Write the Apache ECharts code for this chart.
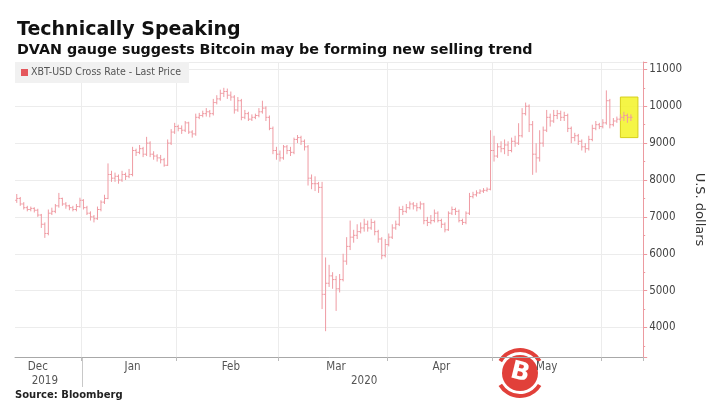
<!DOCTYPE html>
<html>
<head>
<meta charset="utf-8">
<script src="https://cdn.jsdelivr.net/npm/echarts@6/dist/echarts.min.js"></script>
<style>
  html, body { margin: 0; padding: 0; background: #fff; }
  #main { width: 714px; height: 410px; }
</style>
</head>
<body>
<div id="main"></div>
<script>
// daily categories as they appear on the chart (a few January days are missing in the source)
var dates = [
  '2019-12-13','2019-12-14','2019-12-15','2019-12-16','2019-12-17','2019-12-18','2019-12-19','2019-12-20',
  '2019-12-21','2019-12-22','2019-12-23','2019-12-24','2019-12-25','2019-12-26','2019-12-27','2019-12-28',
  '2019-12-29','2019-12-30','2019-12-31',
  '2020-01-01','2020-01-02','2020-01-03','2020-01-04','2020-01-05','2020-01-06','2020-01-07','2020-01-08',
  '2020-01-09','2020-01-10','2020-01-11','2020-01-12','2020-01-13','2020-01-14','2020-01-15','2020-01-16',
  '2020-01-17','2020-01-20','2020-01-21','2020-01-22','2020-01-23','2020-01-24','2020-01-27','2020-01-28',
  '2020-01-29','2020-01-30','2020-01-31',
  '2020-02-01','2020-02-02','2020-02-03','2020-02-04','2020-02-05','2020-02-06','2020-02-07','2020-02-08',
  '2020-02-09','2020-02-10','2020-02-11','2020-02-12','2020-02-13','2020-02-14','2020-02-15','2020-02-16',
  '2020-02-17','2020-02-18','2020-02-19','2020-02-20','2020-02-21','2020-02-22','2020-02-23','2020-02-24',
  '2020-02-25','2020-02-26','2020-02-27','2020-02-28','2020-02-29',
  '2020-03-01','2020-03-02','2020-03-03','2020-03-04','2020-03-05','2020-03-06','2020-03-07','2020-03-08',
  '2020-03-09','2020-03-10','2020-03-11','2020-03-12','2020-03-13','2020-03-14','2020-03-15','2020-03-16',
  '2020-03-17','2020-03-18','2020-03-19','2020-03-20','2020-03-21','2020-03-22','2020-03-23','2020-03-24',
  '2020-03-25','2020-03-26','2020-03-27','2020-03-28','2020-03-29','2020-03-30','2020-03-31',
  '2020-04-01','2020-04-02','2020-04-03','2020-04-04','2020-04-05','2020-04-06','2020-04-07','2020-04-08',
  '2020-04-09','2020-04-10','2020-04-11','2020-04-12','2020-04-13','2020-04-14','2020-04-15','2020-04-16',
  '2020-04-17','2020-04-18','2020-04-19','2020-04-20','2020-04-21','2020-04-22','2020-04-23','2020-04-24',
  '2020-04-25','2020-04-26','2020-04-27','2020-04-28','2020-04-29','2020-04-30',
  '2020-05-01','2020-05-02','2020-05-03','2020-05-04','2020-05-05','2020-05-06','2020-05-07','2020-05-08',
  '2020-05-09','2020-05-10','2020-05-11','2020-05-12','2020-05-13','2020-05-14','2020-05-15','2020-05-16',
  '2020-05-17','2020-05-18','2020-05-19','2020-05-20','2020-05-21','2020-05-22','2020-05-23','2020-05-24',
  '2020-05-25','2020-05-26','2020-05-27','2020-05-28','2020-05-29','2020-05-30','2020-05-31',
  '2020-06-01','2020-06-02','2020-06-03','2020-06-04','2020-06-05','2020-06-06','2020-06-07','2020-06-08',
  '2020-06-09','2020-06-10','2020-06-11','2020-06-12'
]

// [open, close, low, high] per day
var ohlc = [
  [7450,7500,7380,7620],[7500,7350,7300,7540],[7350,7250,7200,7400],[7250,7200,7150,7300],
  [7200,7230,7150,7280],[7230,7180,7120,7260],[7180,7050,7000,7220],[7050,6800,6700,7080],
  [6800,6550,6430,6850],[6550,7100,6500,7200],[7100,7150,7050,7250],[7150,7300,7100,7350],
  [7300,7500,7250,7650],[7500,7350,7300,7520],[7350,7300,7220,7400],[7300,7250,7180,7330],
  [7250,7200,7150,7300],[7200,7280,7150,7350],[7280,7450,7250,7520],
  [7450,7250,7200,7480],[7250,7100,7050,7300],[7100,7000,6900,7150],[7000,6950,6850,7050],
  [6950,7200,6920,7280],[7200,7400,7150,7450],[7400,7500,7350,7600],[7500,8150,7480,8450],
  [8150,8050,7950,8250],[8050,8100,7950,8200],[8100,8000,7900,8150],[8000,8150,7950,8250],
  [8150,8100,8000,8200],[8100,8150,8050,8300],[8150,8800,8100,8900],[8800,8750,8650,8850],
  [8750,8850,8700,8950],[8850,8700,8620,8900],[8700,9000,8650,9170],[9000,8700,8620,9050],
  [8700,8650,8550,8780],[8650,8600,8500,8700],[8600,8550,8450,8680],[8550,8400,8360,8600],
  [8400,9000,8380,9100],[9000,9300,8950,9380],[9300,9450,9250,9550],
  [9450,9400,9320,9500],[9400,9350,9250,9480],[9350,9550,9300,9600],[9550,9300,9250,9580],
  [9300,9250,9150,9350],[9250,9700,9200,9800],[9700,9750,9650,9820],[9750,9800,9700,9880],
  [9800,9850,9720,9950],[9850,9800,9700,9900],[9800,10100,9750,10200],[10100,10200,10050,10300],
  [10200,10350,10150,10450],[10350,10400,10250,10500],[10400,10300,10200,10480],[10300,10250,10150,10400],
  [10250,9900,9800,10300],[9900,10150,9850,10250],[10150,9700,9620,10200],[9700,9800,9650,9900],
  [9800,9650,9600,9850],[9650,9700,9600,9780],[9700,9750,9650,9800],[9750,9850,9700,9950],
  [9850,9950,9800,10150],[9950,9700,9600,10000],[9700,9400,9350,9750],[9400,8800,8700,9450],
  [8800,8700,8550,8900],
  [8700,8600,8500,8800],[8600,8900,8550,8950],[8900,8800,8700,8950],[8800,8750,8650,8900],
  [8750,9100,8700,9150],[9100,9150,9000,9220],[9150,9050,8950,9200],[9050,8900,8800,9100],
  [8900,8050,7850,8950],[8050,7900,7750,8150],[7900,7900,7700,8100],[7900,7800,7650,7950],
  [7800,4900,4500,7950],[4900,5200,3900,5900],[5200,5400,5100,5700],[5400,5300,5050,5500],
  [5300,5050,4450,5400],[5050,5300,4950,5450],[5300,5800,5250,6000],[5800,6200,5700,6450],
  [6200,6450,6100,6900],[6450,6500,6300,6650],[6500,6600,6400,6800],[6600,6700,6550,6850],
  [6700,6800,6600,6950],[6800,6700,6600,6900],[6700,6850,6650,6950],[6850,6600,6500,6900],
  [6600,6400,6300,6650],[6400,5950,5850,6450],[5950,6250,5900,6400],
  [6250,6450,6200,6550],[6450,6700,6400,6800],[6700,6800,6650,6900],[6800,7200,6750,7280],
  [7200,7150,7050,7300],[7150,7250,7100,7350],[7250,7350,7200,7420],[7350,7300,7200,7400],
  [7300,7250,7150,7380],[7250,7350,7200,7420],[7350,6900,6800,7380],[6900,6850,6750,7000],
  [6850,6900,6800,7050],[6900,7100,6850,7200],[7100,6900,6850,7150],[6900,6800,6700,6950],
  [6800,6650,6580,6850],[6650,7100,6620,7150],[7100,7200,7050,7280],[7200,7150,7050,7250],
  [7150,6900,6850,7200],[6900,6850,6780,6950],[6850,7100,6800,7150],[7100,7550,7050,7650],
  [7550,7600,7500,7680],[7600,7650,7550,7720],[7650,7700,7620,7750],[7700,7720,7650,7780],
  [7720,7750,7680,7800],[7750,8800,7720,9350],
  [8800,8650,8500,9200],[8650,8900,8600,9000],[8900,8850,8750,9050],[8850,8950,8700,9100],
  [8950,8800,8650,9050],[8800,9050,8750,9150],[9050,9000,8900,9200],[9000,9200,8950,9540],
  [9200,9800,9150,9950],[9800,10000,9750,10100],[10000,9500,9300,10050],[9500,8700,8140,9600],
  [8700,8600,8200,9000],[8600,9000,8500,9350],[9000,9350,8900,9450],[9350,9700,9300,9900],
  [9700,9600,9450,9800],[9600,9750,9550,9900],[9750,9800,9650,9900],[9800,9700,9600,9880],
  [9700,9750,9600,9850],[9750,9400,9300,9800],[9400,9150,9000,9450],[9150,9200,9050,9280],
  [9200,9050,8950,9250],[9050,8900,8800,9100],[8900,8850,8740,9000],[8850,9100,8800,9200],
  [9100,9400,9050,9500],[9400,9500,9350,9600],[9500,9450,9380,9550],
  [9450,9550,9400,9650],[9550,10150,9500,10430],[10150,9500,9400,10200],[9500,9600,9450,9680],
  [9600,9650,9550,9720],[9650,9700,9600,9780],[9700,9750,9600,9850],[9750,9700,9550,9800],
  [9700,9700,9600,9780]
]

// axis labels
var labelDates = ['2019-12-19', '2020-01-15', '2020-02-16', '2020-03-17', '2020-04-16', '2020-05-16']
var monthLabels = ['Dec', 'Jan', 'Feb', 'Mar', 'Apr', 'May']
var yearDates = ['2019-12-21', '2020-03-25']
var yearLabels = ['2019', '2020']
var yearStart = '2020-01-01'
// highlighted box (dates, price range)
var boxDates = ['2020-06-06', '2020-06-11']
var boxRange = [9150, 10250]

var seriesData = ohlc.map(function (d, i) {
  return [i, d[0], d[1], d[2], d[3]]
})

var barColor = '#ef9ba3'
function renderItem(params, api) {
  var i = api.value(0)
  var o = api.coord([i, api.value(1)])
  var c = api.coord([i, api.value(2)])
  var lo = api.coord([i, api.value(3)])
  var hi = api.coord([i, api.value(4)])
  var w = api.size([1, 0])[0] * 0.45
  var st = { stroke: barColor, lineWidth: 1 }
  return {
    type: 'group',
    children: [
      { type: 'line', shape: { x1: hi[0], y1: hi[1], x2: lo[0], y2: lo[1] }, style: st },
      { type: 'line', shape: { x1: o[0] - w, y1: o[1], x2: o[0], y2: o[1] }, style: st },
      { type: 'line', shape: { x1: c[0], y1: c[1], x2: c[0] + w, y2: c[1] }, style: st }
    ]
  }
}

var labelFont = 'DejaVu Sans Condensed'
var mychart = echarts.init(document.getElementById('main'))
var option = {
  animation: false,
  backgroundColor: '#fff',
  title: {
    text: 'Technically Speaking',
    subtext: 'DVAN gauge suggests Bitcoin may be forming new selling trend',
    left: 12,
    top: 16,
    itemGap: 3,
    textStyle: { fontFamily: 'DejaVu Sans', fontWeight: 'bold', fontSize: 19, color: '#111' },
    subtextStyle: { fontFamily: 'DejaVu Sans', fontWeight: 'bold', fontSize: 14.3, color: '#111' }
  },
  legend: {
    left: 15,
    top: 62,
    icon: 'rect',
    itemWidth: 7,
    itemHeight: 7,
    itemGap: 4,
    padding: [5, 8, 5, 6],
    backgroundColor: '#f1f1f1',
    textStyle: { fontFamily: labelFont, fontSize: 10.5, color: '#555', padding: [0, 0, 0, -2] },
    data: ['XBT-USD Cross Rate - Last Price']
  },
  grid: { left: 15, right: 70, top: 62, bottom: 53 },
  xAxis: [{
    type: 'category',
    data: dates,
    boundaryGap: true,
    axisLine: { lineStyle: { color: '#a8a8a8', width: 1 } },
    axisTick: {
      show: true,
      length: 4,
      interval: function (i, v) { return v.slice(8) === '01' },
      lineStyle: { color: '#bbb' }
    },
    splitLine: {
      show: true,
      interval: function (i, v) { return v.slice(8) === '01' },
      lineStyle: { color: '#ececec' }
    },
    axisLabel: {
      interval: function (i, v) { return labelDates.indexOf(v) >= 0 },
      formatter: function (v) { return monthLabels[labelDates.indexOf(v)] },
      margin: 4,
      fontFamily: labelFont,
      fontSize: 11.5,
      color: '#555'
    }
  }, {
    type: 'category',
    data: dates,
    position: 'bottom',
    boundaryGap: true,
    axisLine: { show: false },
    axisTick: { show: false },
    splitLine: { show: false },
    axisLabel: {
      interval: function (i, v) { return yearDates.indexOf(v) >= 0 },
      formatter: function (v) { return yearLabels[yearDates.indexOf(v)] },
      margin: 18,
      fontFamily: labelFont,
      fontSize: 11.5,
      color: '#555'
    }
  }],
  yAxis: {
    type: 'value',
    position: 'right',
    min: 3200,
    max: 11200,
    splitNumber: 8,
    axisLine: { show: true, lineStyle: { color: '#ec9aa0' } },
    axisTick: { show: true, length: 4, lineStyle: { color: '#ec9aa0' } },
    minorTick: { show: true, splitNumber: 2, length: 2, lineStyle: { color: '#ec9aa0' } },
    splitLine: { lineStyle: { color: '#ececec' } },
    axisLabel: {
      showMinLabel: false,
      showMaxLabel: false,
      margin: 6,
      formatter: function (v) { return String(v) },
      fontFamily: labelFont,
      fontSize: 11.5,
      color: '#444'
    },
    name: 'U.S. dollars',
    nameLocation: 'middle',
    nameRotate: -90,
    nameGap: 41,
    nameTextStyle: { fontFamily: 'DejaVu Sans', fontSize: 13, color: '#333' }
  },
  series: [{
    name: 'XBT-USD Cross Rate - Last Price',
    type: 'custom',
    renderItem: renderItem,
    itemStyle: { color: '#e4575c' },
    encode: { x: 0, y: [1, 2, 3, 4] },
    data: seriesData,
    markArea: {
      silent: true,
      itemStyle: { color: 'rgba(244,244,50,0.9)', borderColor: '#d6cf1a', borderWidth: 1 },
      data: [[
        { xAxis: boxDates[0], yAxis: boxRange[1] },
        { xAxis: boxDates[1], yAxis: boxRange[0] }
      ]]
    }
  }]
}
mychart.setOption(option)

// year separator below the axis, placed through the axis scale
var band = mychart.convertToPixel({ xAxisIndex: 0 }, dates[1]) - mychart.convertToPixel({ xAxisIndex: 0 }, dates[0])
var sepX = Math.round(mychart.convertToPixel({ xAxisIndex: 0 }, yearStart) - band / 2) + 0.5
var axisY = Math.round(mychart.convertToPixel({ yAxisIndex: 0 }, 3200))

mychart.setOption({
  graphic: [{
    type: 'line',
    shape: { x1: sepX, y1: axisY, x2: sepX, y2: axisY + 30 },
    style: { stroke: '#c8c8c8', lineWidth: 1 }
  }, {
    type: 'text',
    left: 15,
    top: 390,
    style: {
      text: 'Source: Bloomberg',
      font: 'bold 10px "DejaVu Sans"',
      fill: '#222'
    }
  }, {
    // site watermark (bitcoin logo)
    type: 'group',
    x: 520,
    y: 373,
    children: [
      { type: 'arc', shape: { cx: 0, cy: 0, r: 23, startAngle: -2.6, endAngle: -0.55 },
        style: { stroke: '#e1403a', lineWidth: 4, fill: null } },
      { type: 'arc', shape: { cx: 0, cy: 0, r: 23, startAngle: 0.55, endAngle: 2.6 },
        style: { stroke: '#e1403a', lineWidth: 4, fill: null } },
      { type: 'circle', shape: { cx: 0, cy: 0, r: 18 }, style: { fill: '#e1403a' } },
      { type: 'text', x: 0, y: 0, rotation: -0.24,
        style: { text: 'B', font: 'bold 25px "DejaVu Sans"', fill: '#fff', align: 'center', verticalAlign: 'middle' } }
    ]
  }]
})
</script>
</body>
</html>
